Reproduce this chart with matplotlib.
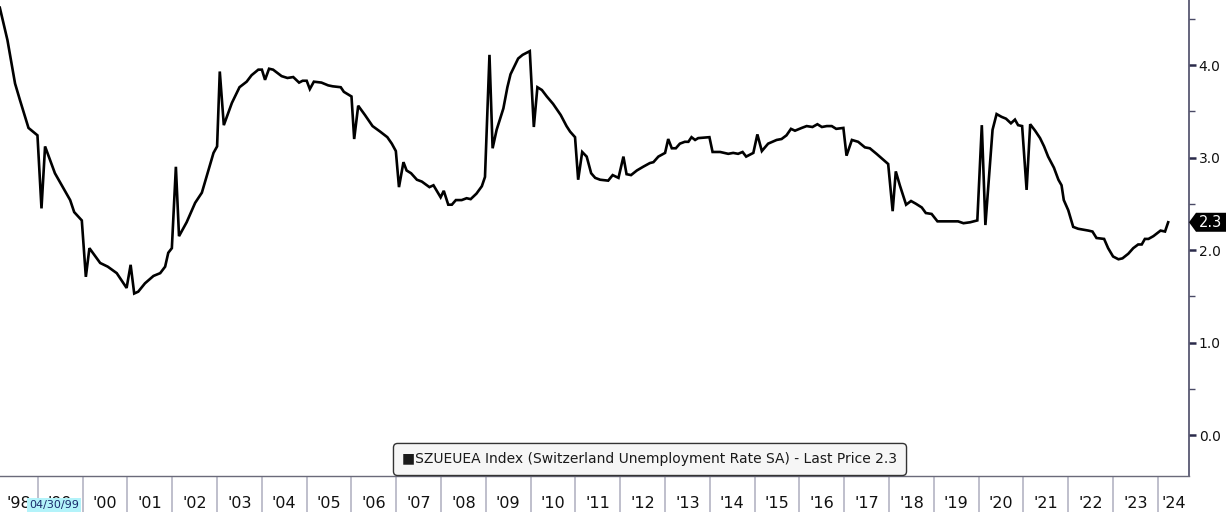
import matplotlib
matplotlib.use("Agg")
import matplotlib.pyplot as plt
from matplotlib.patches import Polygon
from matplotlib.ticker import FixedLocator, NullFormatter, FixedFormatter, MultipleLocator, FormatStrFormatter

# ---- data (decimal year, unemployment rate %) ----
dates = [
    1998.15, 1998.32, 1998.49, 1998.60, 1998.79, 1998.99, 1999.08, 1999.16, 1999.38, 1999.72,
    1999.81, 1999.98, 2000.07, 2000.15, 2000.39, 2000.56, 2000.76, 2000.98, 2001.07, 2001.15,
    2001.24, 2001.39, 2001.58, 2001.73, 2001.84, 2001.91, 2001.99, 2002.08, 2002.15, 2002.32,
    2002.51, 2002.66, 2002.80, 2002.92, 2003.00, 2003.06, 2003.15, 2003.33, 2003.50, 2003.66,
    2003.77, 2003.92, 2004.00, 2004.07, 2004.16, 2004.25, 2004.44, 2004.57, 2004.70, 2004.83,
    2004.91, 2005.00, 2005.07, 2005.16, 2005.33, 2005.48, 2005.58, 2005.76, 2005.83, 2006.00,
    2006.06, 2006.15, 2006.30, 2006.47, 2006.64, 2006.80, 2006.90, 2006.99, 2007.06, 2007.16,
    2007.23, 2007.33, 2007.46, 2007.57, 2007.74, 2007.83, 2007.99, 2008.06, 2008.16, 2008.24,
    2008.33, 2008.46, 2008.57, 2008.66, 2008.79, 2008.91, 2008.98, 2009.08, 2009.15, 2009.24,
    2009.39, 2009.48, 2009.55, 2009.63, 2009.72, 2009.82, 2009.98, 2010.07, 2010.15, 2010.25,
    2010.36, 2010.50, 2010.67, 2010.80, 2010.88, 2010.99, 2011.06, 2011.15, 2011.25, 2011.35,
    2011.44, 2011.55, 2011.73, 2011.83, 2011.96, 2012.07, 2012.14, 2012.24, 2012.37, 2012.51,
    2012.66, 2012.74, 2012.85, 2013.00, 2013.07, 2013.15, 2013.24, 2013.33, 2013.44, 2013.52,
    2013.59, 2013.67, 2013.74, 2013.99, 2014.06, 2014.23, 2014.41, 2014.52, 2014.63, 2014.73,
    2014.81, 2014.97, 2015.06, 2015.16, 2015.30, 2015.49, 2015.60, 2015.71, 2015.81, 2015.90,
    2016.05, 2016.16, 2016.29, 2016.40, 2016.50, 2016.61, 2016.72, 2016.82, 2016.98, 2017.05,
    2017.17, 2017.31, 2017.46, 2017.57, 2017.72, 2017.98, 2018.08, 2018.15, 2018.24, 2018.38,
    2018.49, 2018.60, 2018.73, 2018.82, 2018.95, 2019.08, 2019.32, 2019.54, 2019.66, 2019.81,
    2019.97, 2020.07, 2020.15, 2020.31, 2020.40, 2020.51, 2020.61, 2020.72, 2020.81, 2020.88,
    2020.97, 2021.07, 2021.15, 2021.26, 2021.37, 2021.46, 2021.55, 2021.68, 2021.78, 2021.85,
    2021.90, 2022.00, 2022.11, 2022.22, 2022.34, 2022.45, 2022.54, 2022.63, 2022.80, 2022.89,
    2023.00, 2023.12, 2023.21, 2023.34, 2023.45, 2023.56, 2023.64, 2023.71, 2023.79, 2023.90,
    2024.06, 2024.16, 2024.23,
]
values = [
    4.62, 4.27, 3.80, 3.62, 3.32, 3.24, 2.45, 3.12, 2.83, 2.54,
    2.41, 2.32, 1.71, 2.02, 1.86, 1.82, 1.75, 1.59, 1.84, 1.53,
    1.55, 1.64, 1.72, 1.75, 1.82, 1.97, 2.02, 2.90, 2.15, 2.30,
    2.51, 2.62, 2.85, 3.05, 3.12, 3.93, 3.35, 3.59, 3.76, 3.82,
    3.89, 3.95, 3.95, 3.84, 3.96, 3.95, 3.88, 3.86, 3.87, 3.81,
    3.83, 3.83, 3.74, 3.82, 3.81, 3.78, 3.77, 3.76, 3.71, 3.66,
    3.20, 3.56, 3.46, 3.34, 3.28, 3.22, 3.15, 3.07, 2.68, 2.95,
    2.86, 2.83, 2.76, 2.74, 2.68, 2.70, 2.57, 2.64, 2.49, 2.49,
    2.54, 2.54, 2.56, 2.55, 2.61, 2.69, 2.79, 4.11, 3.10, 3.30,
    3.53, 3.76, 3.90, 3.98, 4.07, 4.11, 4.15, 3.33, 3.76, 3.73,
    3.66, 3.58, 3.46, 3.34, 3.28, 3.22, 2.76, 3.06, 3.01, 2.83,
    2.78, 2.76, 2.75, 2.81, 2.78, 3.01, 2.82, 2.81, 2.86, 2.90,
    2.94, 2.95, 3.01, 3.05, 3.20, 3.10, 3.10, 3.15, 3.17, 3.17,
    3.22, 3.19, 3.21, 3.22, 3.06, 3.06, 3.04, 3.05, 3.04, 3.06,
    3.01, 3.05, 3.25, 3.07, 3.15, 3.19, 3.20, 3.24, 3.31, 3.29,
    3.32, 3.34, 3.33, 3.36, 3.33, 3.34, 3.34, 3.31, 3.32, 3.02,
    3.19, 3.17, 3.11, 3.10, 3.04, 2.93, 2.42, 2.85, 2.70, 2.49,
    2.53, 2.50, 2.46, 2.40, 2.39, 2.31, 2.31, 2.31, 2.29, 2.30,
    2.32, 3.35, 2.27, 3.30, 3.47, 3.44, 3.42, 3.37, 3.41, 3.35,
    3.34, 2.65, 3.36, 3.29, 3.21, 3.12, 3.01, 2.89, 2.76, 2.70,
    2.54, 2.43, 2.25, 2.23, 2.22, 2.21, 2.20, 2.13, 2.12, 2.02,
    1.93, 1.90, 1.91, 1.96, 2.02, 2.06, 2.06, 2.12, 2.12, 2.15,
    2.21, 2.20, 2.30,
]
years = list(range(1998, 2025))
year_labels = ["'%02d" % (y % 100) for y in years]
y_ticks = [0.0, 1.0, 2.0, 3.0, 4.0]
legend_text = "SZUEUEA Index (Switzerland Unemployment Rate SA) - Last Price 2.3"
last_price_label = "2.3"
cursor_date = "04/30/99"

# ---- figure ----
W, H, DPI = 1226, 512, 100
fig = plt.figure(figsize=(W / DPI, H / DPI), dpi=DPI, facecolor="white")
ax_left, ax_right, ax_bottom, ax_top = 0, 1189, 476, 0  # pixel positions
ax = fig.add_axes([ax_left / W, (H - ax_bottom) / H, (ax_right - ax_left) / W, (ax_bottom - ax_top) / H])
ax.set_facecolor("white")

xmin, xmax = 1998.154, 2024.695
ymin, ymax = -0.443, 4.703
ax.set_xlim(xmin, xmax)
ax.set_ylim(ymin, ymax)

ax.plot(dates, values, color="black", lw=1.9, solid_joinstyle="miter", zorder=3)

# spines
for s in ("top", "left"):
    ax.spines[s].set_visible(False)
ax.spines["right"].set_color("#4a4a66")
ax.spines["right"].set_linewidth(1.2)
ax.spines["bottom"].set_color("#6a6a7a")
ax.spines["bottom"].set_linewidth(1.0)

# y axis on right
ax.yaxis.tick_right()
ax.yaxis.set_major_locator(FixedLocator(y_ticks))
ax.yaxis.set_major_formatter(FormatStrFormatter("%.1f"))
ax.yaxis.set_minor_locator(MultipleLocator(0.5))
ax.tick_params(axis="y", which="major", direction="out", length=5, width=1.8,
               color="#2a2a4a", labelsize=10, labelcolor="#111111", pad=2)
ax.tick_params(axis="y", which="minor", direction="out", length=4, width=1.0, color="#4a4a66")

# x axis: separators at year starts, labels centred in each visible year
sep_pos = [y for y in years if xmin < y < xmax]
lab_pos = [(max(y, xmin) + min(y + 1, xmax)) / 2 for y in years]
ax.xaxis.set_major_locator(FixedLocator(sep_pos))
ax.xaxis.set_major_formatter(NullFormatter())
ax.xaxis.set_minor_locator(FixedLocator(lab_pos))
ax.xaxis.set_minor_formatter(FixedFormatter(year_labels))
ax.tick_params(axis="x", which="major", direction="out", length=26, width=1.2, color="#b4b4c4")
ax.tick_params(axis="x", which="minor", length=0, pad=14.5, labelsize=11.5, labelcolor="#111111")

# legend box
ax.text(650 / 1189, 0.0347, "\u25A0" + legend_text, transform=ax.transAxes, ha="center", va="center",
        fontsize=10.0, color="#1a1a1a", zorder=6,
        bbox=dict(boxstyle="round,pad=0.65,rounding_size=0.3", facecolor="#f6f6f6",
                  edgecolor="#333333", linewidth=1.0))

# cursor date box
fig.text(29 / W, 1 - 505 / H, cursor_date, ha="left", va="center", fontsize=8, color="#1a2a6a",
         zorder=10, bbox=dict(boxstyle="square,pad=0.15", facecolor="#b3f3fa", edgecolor="none"))

# last price tag
fig.canvas.draw()
px, py = ax.transData.transform((xmax, values[-1]))
hh = 9.5
tip = 7
tag = Polygon([(px, py), (px + tip, py + hh), (W, py + hh), (W, py - hh), (px + tip, py - hh)],
              closed=True, transform=None, facecolor="black", edgecolor="none", zorder=10)
fig.patches.append(tag)
fig.text((px + tip + (W - px - tip) / 2) / W, py / H, last_price_label, ha="center", va="center",
         color="white", fontsize=10.5, zorder=11)

fig.savefig("out.png", dpi=DPI, facecolor="white")
